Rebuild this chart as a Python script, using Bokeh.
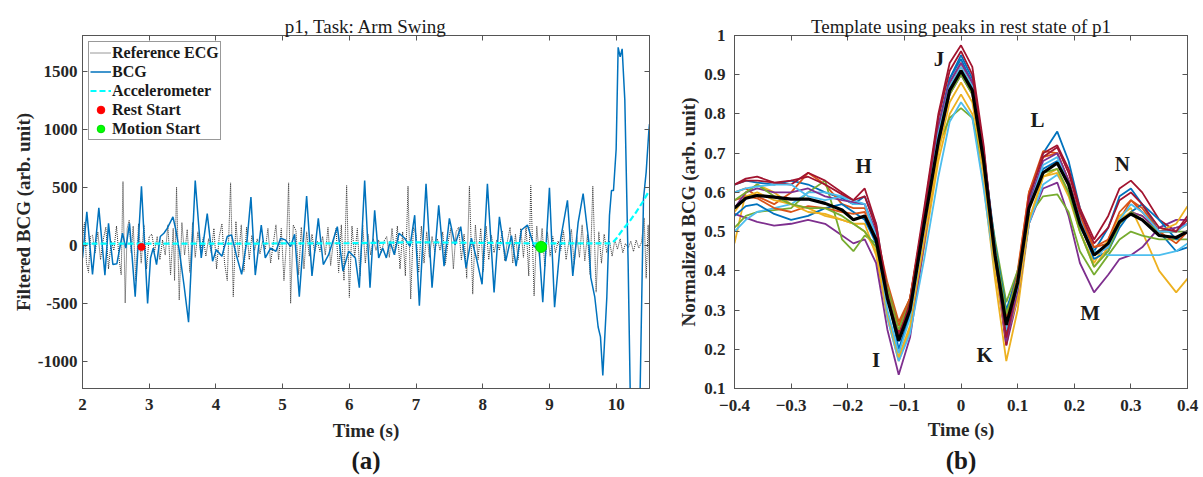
from bokeh.plotting import figure
from bokeh.layouts import row
from bokeh.models import LinearAxis, FixedTicker, Label, Range1d, Title, CustomJSTickFormatter
from bokeh.embed import file_html
from bokeh.resources import INLINE

# ---------------- panel (a) data ----------------
ecg_t = [2.00, 2.03, 2.06, 2.09, 2.12, 2.15, 2.19, 2.23, 2.27, 2.31, 2.35, 2.39, 2.43, 2.47, 2.51, 2.55, 2.58,
         2.607, 2.64, 2.67, 2.70, 2.73, 2.76, 2.80, 2.84, 2.88, 2.92, 2.96, 3.00, 3.04, 3.08, 3.12, 3.16, 3.20,
         3.24, 3.28, 3.32, 3.36, 3.38, 3.41, 3.45, 3.49, 3.53, 3.57, 3.61, 3.65, 3.69, 3.73, 3.77, 3.81, 3.85,
         3.89, 3.93, 3.97, 4.01, 4.05, 4.09, 4.13, 4.17, 4.22, 4.26, 4.30, 4.34, 4.38, 4.42, 4.46, 4.50, 4.54,
         4.58, 4.62, 4.66, 4.70, 4.74, 4.78, 4.82, 4.86, 4.90, 4.94, 4.98, 5.02, 5.06, 5.09, 5.12, 5.16, 5.20,
         5.24, 5.28, 5.32, 5.36, 5.40, 5.44, 5.48, 5.52, 5.56, 5.60, 5.64, 5.68, 5.72, 5.76, 5.80, 5.84, 5.88,
         5.92, 5.96, 6.00, 6.04, 6.08, 6.12, 6.16, 6.20, 6.24, 6.28, 6.32, 6.36, 6.40, 6.44, 6.48, 6.52, 6.56,
         6.60, 6.64, 6.68, 6.72, 6.76, 6.80, 6.84, 6.88, 6.92, 6.96, 7.00, 7.04, 7.08, 7.12, 7.16, 7.20, 7.24,
         7.28, 7.32, 7.36, 7.40, 7.44, 7.48, 7.52, 7.56, 7.60, 7.64, 7.68, 7.72, 7.76, 7.80, 7.85, 7.89, 7.93,
         7.97, 8.01, 8.05, 8.09, 8.13, 8.17, 8.21, 8.25, 8.29, 8.33, 8.37, 8.41, 8.45, 8.49, 8.53, 8.57, 8.61,
         8.65, 8.69, 8.72, 8.77, 8.81, 8.85, 8.89, 8.93, 8.97, 9.01, 9.05, 9.09, 9.13, 9.17, 9.21, 9.25, 9.29,
         9.33, 9.37, 9.41, 9.45, 9.49, 9.53, 9.57, 9.61, 9.65, 9.70, 9.74, 9.78, 9.82, 9.86, 9.90, 9.94, 9.98,
         10.02, 10.06, 10.10, 10.14, 10.18, 10.22, 10.26, 10.30, 10.34, 10.38, 10.42, 10.45, 10.48, 10.50]
ecg_v = [60, 200, -150, -230, 80, 90, -60, 120, -120, 50, 160, -200, 40, -40, 170, -120, -250,
         554, -494, 150, 220, -60, 170, -300, 190, -150, 180, -200, 80, 100, -50, 80, -120, 50,
         -80, 180, -250, 150, -300, 506, -469, 200, -80, 140, -230, 200, -100, 120, -50, 70, -90,
         60, -60, 150, -200, 80, 190, -150, -300, 543, -440, 210, -100, 180, -220, 160, -120, 90,
         -40, 60, -70, 40, -30, 150, -150, 20, 180, -120, 150, -300, 50, 543, -497, 180, 130,
         -250, 160, -200, 120, -90, 100, -60, 40, -50, 80, -80, 160, -170, 30, 150, -230, 180,
         -300, 520, -446, 170, -100, 150, -260, 180, -150, 100, -80, 60, -40, 50, -60, 40, 80,
         -100, 150, -80, 170, -200, 120, -260, 514, -460, 160, 100, -230, 170, -150, 120, -100, 80,
         -50, 60, -40, 120, -160, 30, 150, -200, 120, 160, -120, 100, -280, 514, -417, 180, -120,
         150, -220, 170, -120, 90, -60, 50, -40, 130, -130, 40, 160, -150, 100, -120, 150, -100,
         170, -260, 520, -432, 170, -100, 150, -180, 120, -90, 80, -60, 40, -40, 130, -120, 30,
         140, -160, 80, -100, 180, -130, 100, -250, 514, -400, 120, -150, 100, -60, 40, -90, 50,
         -30, 60, -60, 20, -20, 40, -50, 50, -20, 30, 240, -280, 180, -200]

bcg_t = [2.00, 2.065, 2.15, 2.245, 2.336, 2.39, 2.455, 2.515, 2.60, 2.65, 2.705, 2.79, 2.884, 2.976, 3.02,
         3.06, 3.11, 3.166, 3.22, 3.27, 3.356, 3.40, 3.453, 3.52, 3.59, 3.69, 3.78, 3.87, 3.95, 4.006, 4.09,
         4.17, 4.234, 4.305, 4.386, 4.47, 4.525, 4.59, 4.68, 4.74, 4.82, 4.90, 4.97, 5.04, 5.12, 5.18, 5.25,
         5.36, 5.44, 5.535, 5.61, 5.69, 5.82, 5.905, 5.99, 6.09, 6.15, 6.23, 6.31, 6.38, 6.44, 6.50, 6.555,
         6.61, 6.675, 6.745, 6.83, 6.91, 6.98, 7.05, 7.15, 7.24, 7.34, 7.42, 7.50, 7.585, 7.67, 7.75, 7.83,
         7.91, 7.99, 8.07, 8.17, 8.25, 8.345, 8.43, 8.50, 8.58, 8.67, 8.77, 8.845, 8.90, 9.00, 9.077, 9.17,
         9.27, 9.35, 9.43, 9.505, 9.59, 9.62, 9.68, 9.73, 9.765, 9.80, 9.86, 9.90, 9.93, 9.96, 10.00, 10.03,
         10.06, 10.09, 10.13, 10.18, 10.21, 10.29, 10.36, 10.41, 10.45, 10.49, 10.50]
bcg_v = [-105, 293, -247, 327, -253, 193, -162, -156, 108, -20, 193, -440, 514, -497, -105,
         -20, -162, 80, 108, 150, 250, 136, -48, -332, -659, 563, -105, 278, -133, -34, -91,
         80, 94, -77, -247, 65, 420, -253, 179, -105, -20, -48, 65, 51, -6, 100, -440,
         429, -261, 236, -162, -77, 165, -219, -48, -105, -361, 563, -361, 307, -105, -20, -105,
         37, -77, 108, 65, -6, 264, -517, 534, -361, 349, -176, 236, 9, 165, -190, 65,
         -119, -332, 534, -403, 250, -133, 88, -176, 136, 179, -6, -20, -488, 500, -531, 65,
         392, -261, 200, 450, 37, -275, -444, -701, -786, -1120, -446, 264, 477, 477, 833, 1713,
         1630, 1700, 1259, -162, -1230, -1900, -1230, 406, 636, 989, 1050]

acc_t = [2.0, 4.0, 6.0, 7.0, 8.0, 9.0, 9.9, 9.95, 10.0, 10.05, 10.1, 10.2, 10.3, 10.4, 10.5]
acc_v = [18, 18, 22, 30, 25, 20, 20, 30, 60, 100, 140, 210, 290, 380, 480]

rest_t, rest_v = [2.884], [-10]
motion_t, motion_v = [8.876], [-10]

a_xticks = [2, 3, 4, 5, 6, 7, 8, 9, 10]
a_yticks = [-1000, -500, 0, 500, 1000, 1500]
a_ylabels = {-1000: "-1000", -500: "-500"}

# ---------------- panel (b) data ----------------
tt = [-0.40, -0.38, -0.36, -0.33, -0.30, -0.27, -0.24, -0.21, -0.19, -0.17, -0.15, -0.13, -0.11, -0.09,
      -0.065, -0.04, -0.02, 0.0, 0.02, 0.04, 0.06, 0.08, 0.10, 0.12, 0.145, 0.17, 0.19, 0.21, 0.235, 0.26,
      0.28, 0.30, 0.32, 0.35, 0.38, 0.40]

beats = [
    ("#0072BD", [0.620, 0.630, 0.625, 0.620, 0.630, 0.620, 0.600, 0.585, 0.570, 0.590, 0.520, 0.340, 0.200, 0.290, 0.530, 0.760, 0.890, 0.950, 0.890, 0.700, 0.450, 0.240, 0.360, 0.580, 0.700, 0.755, 0.680, 0.560, 0.450, 0.510, 0.590, 0.610, 0.570, 0.500, 0.450, 0.460]),
    ("#D95319", [0.600, 0.610, 0.590, 0.570, 0.600, 0.650, 0.620, 0.570, 0.560, 0.560, 0.500, 0.370, 0.270, 0.330, 0.540, 0.760, 0.880, 0.930, 0.880, 0.700, 0.460, 0.290, 0.400, 0.600, 0.705, 0.700, 0.630, 0.540, 0.460, 0.470, 0.530, 0.580, 0.560, 0.500, 0.500, 0.520]),
    ("#EDB120", [0.470, 0.600, 0.620, 0.600, 0.570, 0.560, 0.540, 0.530, 0.520, 0.520, 0.440, 0.280, 0.170, 0.250, 0.460, 0.680, 0.800, 0.850, 0.800, 0.620, 0.380, 0.170, 0.300, 0.520, 0.640, 0.660, 0.600, 0.500, 0.420, 0.480, 0.540, 0.560, 0.500, 0.400, 0.345, 0.380]),
    ("#7E2F8E", [0.545, 0.535, 0.525, 0.515, 0.520, 0.530, 0.520, 0.490, 0.470, 0.480, 0.420, 0.250, 0.135, 0.230, 0.470, 0.720, 0.850, 0.900, 0.850, 0.660, 0.420, 0.210, 0.330, 0.520, 0.610, 0.625, 0.540, 0.420, 0.345, 0.390, 0.430, 0.440, 0.460, 0.510, 0.530, 0.530]),
    ("#77AC30", [0.510, 0.540, 0.550, 0.555, 0.560, 0.600, 0.630, 0.480, 0.450, 0.490, 0.470, 0.360, 0.260, 0.330, 0.530, 0.720, 0.790, 0.815, 0.790, 0.660, 0.480, 0.320, 0.400, 0.540, 0.590, 0.595, 0.550, 0.450, 0.390, 0.440, 0.480, 0.500, 0.490, 0.480, 0.480, 0.480]),
    ("#4DBEEE", [0.500, 0.530, 0.550, 0.560, 0.570, 0.600, 0.600, 0.590, 0.570, 0.570, 0.480, 0.280, 0.170, 0.240, 0.430, 0.640, 0.780, 0.830, 0.790, 0.610, 0.400, 0.270, 0.340, 0.520, 0.620, 0.645, 0.600, 0.510, 0.450, 0.440, 0.440, 0.440, 0.440, 0.440, 0.450, 0.470]),
    ("#A2142F", [0.620, 0.635, 0.640, 0.625, 0.620, 0.650, 0.630, 0.600, 0.580, 0.610, 0.520, 0.350, 0.240, 0.330, 0.560, 0.800, 0.930, 0.975, 0.920, 0.720, 0.440, 0.210, 0.360, 0.590, 0.700, 0.720, 0.660, 0.560, 0.480, 0.540, 0.610, 0.630, 0.600, 0.530, 0.500, 0.530]),
    ("#0072BD", [0.540, 0.565, 0.570, 0.545, 0.530, 0.540, 0.560, 0.570, 0.550, 0.530, 0.470, 0.330, 0.220, 0.310, 0.540, 0.770, 0.890, 0.940, 0.880, 0.700, 0.470, 0.300, 0.390, 0.560, 0.660, 0.680, 0.620, 0.520, 0.430, 0.450, 0.510, 0.550, 0.570, 0.530, 0.480, 0.500]),
    ("#D95319", [0.580, 0.590, 0.585, 0.560, 0.550, 0.565, 0.560, 0.550, 0.545, 0.550, 0.480, 0.350, 0.260, 0.330, 0.540, 0.760, 0.870, 0.920, 0.870, 0.690, 0.450, 0.280, 0.390, 0.600, 0.690, 0.700, 0.630, 0.530, 0.460, 0.480, 0.550, 0.580, 0.550, 0.500, 0.470, 0.500]),
    ("#EDB120", [0.550, 0.590, 0.600, 0.580, 0.570, 0.550, 0.545, 0.530, 0.520, 0.500, 0.450, 0.290, 0.180, 0.260, 0.480, 0.700, 0.830, 0.880, 0.830, 0.650, 0.400, 0.230, 0.330, 0.530, 0.640, 0.650, 0.590, 0.500, 0.410, 0.460, 0.530, 0.550, 0.540, 0.500, 0.520, 0.565]),
    ("#7E2F8E", [0.560, 0.600, 0.610, 0.600, 0.600, 0.610, 0.590, 0.580, 0.575, 0.570, 0.500, 0.340, 0.230, 0.310, 0.540, 0.770, 0.880, 0.930, 0.880, 0.690, 0.440, 0.220, 0.350, 0.570, 0.680, 0.700, 0.630, 0.530, 0.440, 0.460, 0.520, 0.550, 0.540, 0.500, 0.510, 0.520]),
    ("#77AC30", [0.580, 0.600, 0.620, 0.590, 0.570, 0.560, 0.560, 0.540, 0.520, 0.500, 0.460, 0.350, 0.250, 0.320, 0.530, 0.740, 0.850, 0.900, 0.850, 0.680, 0.460, 0.290, 0.380, 0.560, 0.650, 0.660, 0.600, 0.500, 0.410, 0.450, 0.520, 0.550, 0.530, 0.500, 0.500, 0.500]),
    ("#4DBEEE", [0.600, 0.610, 0.615, 0.620, 0.620, 0.590, 0.580, 0.590, 0.580, 0.570, 0.490, 0.300, 0.190, 0.280, 0.510, 0.750, 0.870, 0.920, 0.870, 0.690, 0.440, 0.250, 0.360, 0.560, 0.670, 0.690, 0.620, 0.530, 0.440, 0.460, 0.530, 0.570, 0.550, 0.500, 0.500, 0.520]),
    ("#A2142F", [0.620, 0.630, 0.630, 0.625, 0.630, 0.640, 0.620, 0.595, 0.580, 0.590, 0.510, 0.340, 0.230, 0.320, 0.550, 0.790, 0.910, 0.960, 0.900, 0.710, 0.450, 0.230, 0.370, 0.590, 0.690, 0.715, 0.650, 0.550, 0.470, 0.510, 0.580, 0.600, 0.570, 0.510, 0.500, 0.540]),
]
template_mean = [0.560, 0.585, 0.592, 0.588, 0.583, 0.583, 0.572, 0.555, 0.530, 0.540, 0.480, 0.330, 0.222, 0.300,
                 0.520, 0.730, 0.860, 0.910, 0.860, 0.680, 0.440, 0.262, 0.370, 0.560, 0.650, 0.675, 0.620, 0.520,
                 0.440, 0.470, 0.525, 0.545, 0.530, 0.490, 0.485, 0.500]

wave_names = ["H", "I", "J", "K", "L", "M", "N"]
wave_x = [-0.172, -0.150, -0.039, 0.042, 0.135, 0.228, 0.285]
wave_y = [0.668, 0.173, 0.941, 0.185, 0.784, 0.293, 0.672]

b_xticks = [-0.4, -0.3, -0.2, -0.1, 0, 0.1, 0.2, 0.3, 0.4]
b_yticks = [0.1, 0.2, 0.3, 0.4, 0.5, 0.6, 0.7, 0.8, 0.9, 1]

FONT = "Liberation Serif"
TXT = "#262626"
AX = "#555555"


def style(p, xt, yt, tick_standoff_y, tick_standoff_x, xlab_standoff, ylab_standoff):
    p.xaxis.ticker = FixedTicker(ticks=xt)
    p.yaxis.ticker = FixedTicker(ticks=yt)
    for ax in (p.xaxis[0], p.yaxis[0]):
        ax.major_tick_in = 5
        ax.major_tick_out = 0
        ax.minor_tick_line_color = None
        ax.axis_line_color = AX
        ax.major_tick_line_color = AX
        ax.major_label_text_font = FONT
        ax.major_label_text_font_style = "bold"
        ax.major_label_text_font_size = "17px"
        ax.major_label_text_color = TXT
        ax.axis_label_text_font = FONT
        ax.axis_label_text_font_style = "bold"
        ax.axis_label_text_font_size = "19px"
        ax.axis_label_text_color = TXT
    p.xaxis[0].major_label_standoff = tick_standoff_x
    p.yaxis[0].major_label_standoff = tick_standoff_y
    p.xaxis[0].axis_label_standoff = xlab_standoff
    p.yaxis[0].axis_label_standoff = ylab_standoff
    for loc, ticks in (("above", xt), ("right", yt)):
        m = LinearAxis(ticker=FixedTicker(ticks=ticks), major_label_text_font_size="0px",
                       major_label_standoff=0, major_tick_in=5, major_tick_out=0,
                       minor_tick_line_color=None, axis_line_color=AX, major_tick_line_color=AX)
        p.add_layout(m, loc)
    p.xgrid.visible = False
    p.ygrid.visible = False
    p.outline_line_color = AX
    p.background_fill_color = "white"
    p.border_fill_color = "white"


def top_title(p, text, standoff):
    p.title.text = text
    p.title.align = "center"
    p.title.text_font = FONT
    p.title.text_font_style = "normal"
    p.title.text_font_size = "19px"
    p.title.text_color = "#1a1a1a"
    p.title.standoff = standoff


def bottom_title(p, text, standoff):
    t = Title(text=text, align="center", text_font=FONT, text_font_style="bold", text_font_size="25px",
              text_color="#1a1a1a", standoff=standoff)
    p.add_layout(t, "below")


# ---------------- figure (a) ----------------
pa = figure(width=659, height=477, min_border_left=82, min_border_right=10, min_border_top=35,
            min_border_bottom=85, x_range=Range1d(2, 10.5), y_range=Range1d(-1232, 1815),
            output_backend="svg", toolbar_location=None, title="p1, Task: Arm Swing")
pa.xaxis.axis_label = "Time (s)"
pa.yaxis.axis_label = "Filtered BCG (arb. unit)"
style(pa, a_xticks, a_yticks, 5, 10, 7, 1)
pa.yaxis[0].major_label_overrides = a_ylabels
top_title(pa, "p1, Task: Arm Swing", -2)
bottom_title(pa, "(a)", 2)

pa.line(ecg_t, ecg_v, line_color="#333333", line_width=1, line_dash="1 1", legend_label="Reference ECG")
pa.line(bcg_t, bcg_v, line_color="#0072BD", line_width=1.5, legend_label="BCG")
pa.line(acc_t, acc_v, line_color="#00FFFF", line_width=2.2, line_dash="6 3", legend_label="Accelerometer")
pa.scatter(rest_t, rest_v, size=7, fill_color="#FF0000", line_color="#FF0000", legend_label="Rest Start")
pa.scatter(motion_t, motion_v, size=11, fill_color="#00FF00", line_color="#00DD00", legend_label="Motion Start")

lg = pa.legend[0]
lg.location = "top_left"
lg.margin = 6
lg.padding = 1
lg.spacing = 0
lg.label_height = 19
lg.glyph_height = 19
lg.glyph_width = 21
lg.label_standoff = 1
lg.label_text_font = FONT
lg.label_text_font_style = "bold"
lg.label_text_font_size = "16px"
lg.label_text_color = "#1a1a1a"
lg.border_line_color = "#333333"
lg.border_line_width = 1
lg.background_fill_alpha = 1

# ---------------- figure (b) ----------------
pb = figure(width=544, height=477, min_border_left=75, min_border_right=16, min_border_top=34,
            min_border_bottom=89, x_range=Range1d(-0.4, 0.4), y_range=Range1d(0.1, 1.0),
            output_backend="svg", toolbar_location=None, title="Template using peaks in rest state of p1")
pb.xaxis.axis_label = "Time (s)"
pb.yaxis.axis_label = "Normalized BCG (arb. unit)"
style(pb, b_xticks, b_yticks, 9, 11, 5, 2)
pb.xaxis[0].formatter = CustomJSTickFormatter(code="return Math.abs(tick) < 1e-9 ? '0' : tick.toFixed(1);")
pb.yaxis[0].formatter = CustomJSTickFormatter(code="return Math.abs(tick - 1) < 1e-9 ? '1' : tick.toFixed(1);")
top_title(pb, "Template using peaks in rest state of p1", -2)
bottom_title(pb, "(b)", 4)

for color, vals in beats:
    pb.line(tt, vals, line_color=color, line_width=1.8)
pb.line(tt, template_mean, line_color="black", line_width=3.2)

for name, x, y in zip(wave_names, wave_x, wave_y):
    pb.add_layout(Label(x=x, y=y, text=name, text_align="center", text_baseline="middle", text_font=FONT,
                        text_font_style="bold", text_font_size="21px", text_color="#1a1a1a"))

layout = row(pa, pb)
open("out.html", "w").write(file_html(layout, INLINE))
